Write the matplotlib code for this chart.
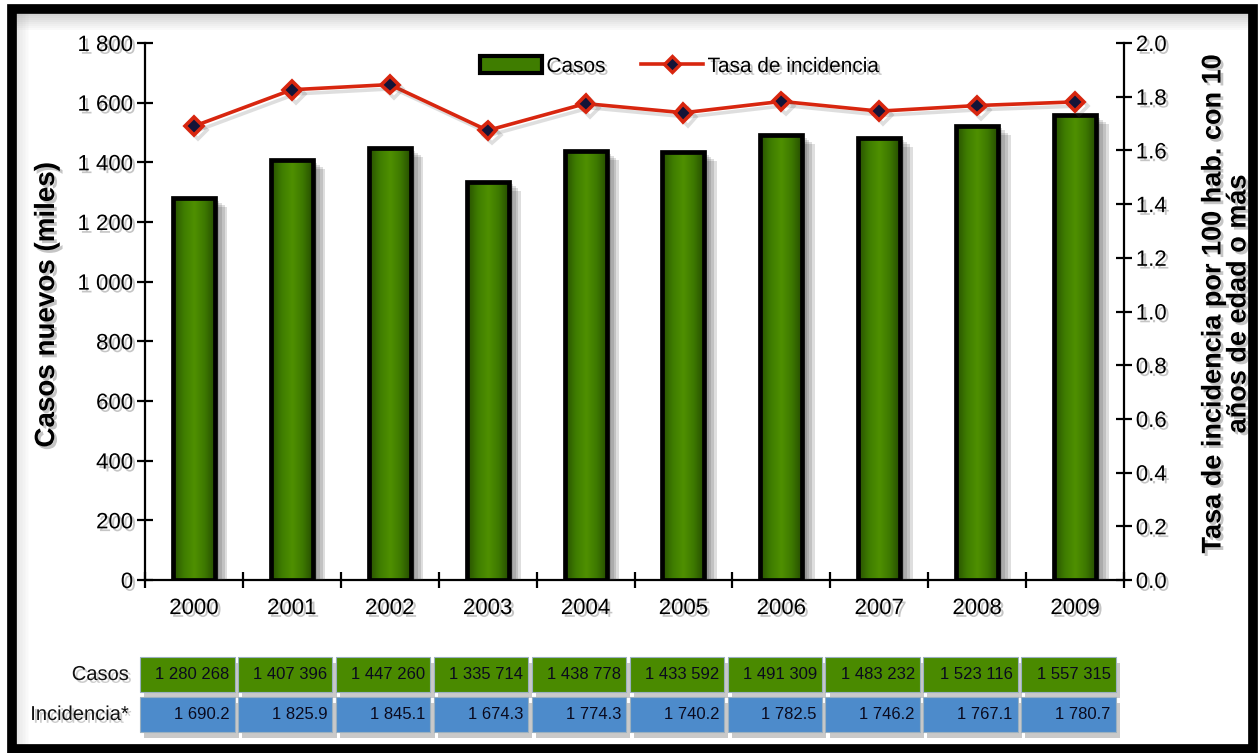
import matplotlib
matplotlib.use("Agg")
import matplotlib.pyplot as plt
import numpy as np
from matplotlib import patheffects as pe
from matplotlib.patches import Rectangle
from matplotlib.lines import Line2D
from matplotlib.colors import LinearSegmentedColormap
import matplotlib.transforms as mtransforms

# ---------------- data ----------------
years = ['2000', '2001', '2002', '2003', '2004', '2005', '2006', '2007', '2008', '2009']
casos = [1280268, 1407396, 1447260, 1335714, 1438778, 1433592, 1491309, 1483232, 1523116, 1557315]
incidencia = [1690.2, 1825.9, 1845.1, 1674.3, 1774.3, 1740.2, 1782.5, 1746.2, 1767.1, 1780.7]
casos_txt = ['1 280 268', '1 407 396', '1 447 260', '1 335 714', '1 438 778',
             '1 433 592', '1 491 309', '1 483 232', '1 523 116', '1 557 315']
incid_txt = ['1 690.2', '1 825.9', '1 845.1', '1 674.3', '1 774.3',
             '1 740.2', '1 782.5', '1 746.2', '1 767.1', '1 780.7']
left_ticks = [0, 200, 400, 600, 800, 1000, 1200, 1400, 1600, 1800]
left_ticklabels = ['0', '200', '400', '600', '800', '1 000', '1 200', '1 400', '1 600', '1 800']
right_ticks = [0.0, 0.2, 0.4, 0.6, 0.8, 1.0, 1.2, 1.4, 1.6, 1.8, 2.0]
right_ticklabels = ['0.0', '0.2', '0.4', '0.6', '0.8', '1.0', '1.2', '1.4', '1.6', '1.8', '2.0']

casos_miles = [c / 1000.0 for c in casos]
tasa = [v / 1000.0 for v in incidencia]

# ---------------- style ----------------
FONT = ['Liberation Sans', 'DejaVu Sans']
plt.rcParams['font.family'] = FONT

def tshadow(off=(2, -2), a=0.35):
    return [pe.withSimplePatchShadow(offset=off, shadow_rgbFace='0.35', alpha=a)]

fig = plt.figure(figsize=(12.58, 7.53), dpi=100)
fig.patch.set_facecolor('white')

W, H = 1258.0, 753.0
ax = fig.add_axes([145 / W, 1 - 580 / H, (1124 - 145) / W, (580 - 43) / H])
ax2 = ax.twinx()
ax.set_zorder(1)
ax2.set_zorder(2)
ax.patch.set_visible(False)
ax2.patch.set_visible(False)

x = np.arange(len(years))
bw = 0.43

# bars with soft shadow
soft = [pe.SimplePatchShadow(offset=(3 + 2 * k, -2 - 1.5 * k), shadow_rgbFace='0.2', alpha=0.16)
        for k in range(4)] + [pe.Normal()]
bars = ax.bar(x, casos_miles, width=bw, color='#3d7600', edgecolor='none', zorder=3,
              path_effects=soft)
cmap = LinearSegmentedColormap.from_list('g', ['#275000', '#3f7d00', '#4f9000', '#3d7800', '#244a00'])
grad = np.linspace(0, 1, 64).reshape(1, -1)
for b in bars:
    x0, y0 = b.get_x(), b.get_y()
    im = ax.imshow(grad, extent=[x0, x0 + b.get_width(), y0, y0 + b.get_height()],
                   aspect='auto', cmap=cmap, zorder=3.1, interpolation='bicubic')
    im.set_clip_path(b)
ax.bar(x, casos_miles, width=bw, fill=False, edgecolor='black', linewidth=3.4, zorder=3.2)

ax.set_xlim(-0.5, len(years) - 0.5)
ax.set_ylim(0, 1800)
ax2.set_ylim(0, 2.0)

# line
ax2.plot(x, tasa, color='#d8260f', lw=2.6, marker='D', ms=9, mfc='#141438',
         mec='#d8260f', mew=2.6, zorder=5,
         path_effects=[pe.SimpleLineShadow(offset=(3, -3), shadow_color='0.3', alpha=0.18), pe.Normal()])

# spines & ticks
for a in (ax, ax2):
    a.spines['top'].set_visible(False)
    for s in ('left', 'right', 'bottom'):
        a.spines[s].set_linewidth(1.6)
ax.spines['right'].set_visible(False)
ax2.spines['left'].set_visible(False)
ax2.spines['bottom'].set_visible(False)

ax.set_yticks(left_ticks)
ax.set_yticklabels(left_ticklabels)
ax.tick_params(axis='y', direction='inout', length=11, width=1.6, labelsize=16, pad=3)
for t in ax.get_yticklabels():
    t.set_path_effects(tshadow())

ax2.set_yticks(right_ticks)
ax2.set_yticklabels(right_ticklabels)
ax2.tick_params(axis='y', direction='inout', length=11, width=1.6, labelsize=16, pad=3)
for t in ax2.get_yticklabels():
    t.set_path_effects(tshadow())

ax.set_xticks(np.arange(-0.5, len(years), 1.0))
ax.set_xticklabels([])
ax.tick_params(axis='x', which='major', direction='inout', length=11, width=1.6)
ax.set_xticks(x, minor=True)
ax.set_xticklabels(years, minor=True)
ax.tick_params(axis='x', which='minor', length=0, labelsize=16, pad=13)
for t in ax.get_xticklabels(minor=True):
    t.set_path_effects(tshadow())

# axis titles
fig.text(47 / W, 1 - 305 / H, 'Casos nuevos (miles)', rotation=90, ha='center', va='center',
         fontsize=20, fontweight='bold', path_effects=tshadow())
fig.text(1226 / W, 1 - 304 / H, 'Tasa de incidencia por 100 hab. con 10\naños de edad o más',
         rotation=90, ha='center', va='center', multialignment='center',
         fontsize=19.5, fontweight='bold', linespacing=0.95, path_effects=tshadow())

# legend
h_bar = Rectangle((0, 0), 1, 1, facecolor='#3f7d00', edgecolor='black', linewidth=3)
h_line = Line2D([], [], color='#d8260f', lw=2.6, marker='D', ms=8, mfc='#141438',
                mec='#d8260f', mew=2.4)
leg = ax2.legend([h_bar, h_line], ['Casos', 'Tasa de incidencia'], loc='center',
                 bbox_to_anchor=(0.546, 0.957), ncol=2, frameon=False, fontsize=15,
                 handlelength=3.0, handleheight=0.9, handletextpad=0.2, columnspacing=1.7)
for t in leg.get_texts():
    t.set_path_effects(tshadow())

# ---------------- data table ----------------
trans = mtransforms.blended_transform_factory(ax.transData, fig.transFigure)
trans_txt = mtransforms.offset_copy(trans, fig=fig, x=-5, y=0, units='dots')
rows = [(casos_txt, '#4a8a00', 1 - 692 / H, (692 - 657) / H, 'Casos'),
        (incid_txt, '#4d8bcb', 1 - 732 / H, (732 - 697) / H, 'Incidencia*')]
cell_w = 0.965
for texts, col, yb, hh, lab in rows:
    for i, t in enumerate(texts):
        x0 = i - 0.55
        r = Rectangle((x0, yb), cell_w, hh, transform=trans, facecolor=col,
                      edgecolor='#9ab0c0', linewidth=0.8, clip_on=False, zorder=3,
                      path_effects=[pe.SimplePatchShadow(offset=(3, -4), shadow_rgbFace='0.3', alpha=0.3),
                                    pe.Normal()])
        fig.add_artist(r)
        fig.text(x0 + cell_w, yb + hh / 2, t, transform=trans_txt,
                 fontsize=12, color='#0a0a1e', ha='right', va='center', zorder=4)
    fig.text(129 / W, yb + hh / 2, lab, ha='right', va='center', fontsize=14.5,
             color='#111111', path_effects=tshadow((2, -2), 0.3))

# ---------------- frame ----------------
for k in range(8):
    a = 0.30 * (1 - k / 8.0)
    fig.add_artist(Rectangle((17 / W, 1 - (14 + 2 * k + 2) / H), (1249 - 17) / W, 2 / H,
                             transform=fig.transFigure, facecolor='0.45', alpha=a,
                             edgecolor='none', zorder=0))
    fig.add_artist(Rectangle((17 / W + 1.5 * k / W, 1 - 745 / H), 1.5 / W, (745 - 14) / H,
                             transform=fig.transFigure, facecolor='0.5', alpha=a * 0.6,
                             edgecolor='none', zorder=0))
fig.add_artist(Rectangle((12 / W, 1 - 749 / H), (1253 - 12) / W, (749 - 9) / H,
                         transform=fig.transFigure, fill=False, edgecolor='black',
                         linewidth=7, zorder=10))

fig.savefig('out.png', dpi=100, facecolor='white')
